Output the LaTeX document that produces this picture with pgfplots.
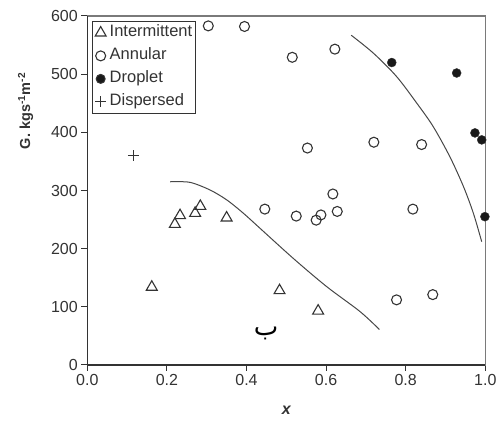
\documentclass[border=0pt]{standalone}
\usepackage{fontspec}
\setmainfont{Liberation Sans}
\newfontfamily\arabicfont[Script=Arabic]{DejaVu Sans}
\TeXXeTstate=1
\usepackage{pgfplots}
\pgfplotsset{compat=1.18}
\definecolor{ink}{HTML}{333333}
\definecolor{frame}{HTML}{7A7A7A}
\pgfplotsset{legend image code/.code={%
  \path[draw=none,fill=none] (0pt,0pt) rectangle (14pt,0.1pt);
  \draw[mark repeat=2,mark phase=2,#1] plot coordinates {(0pt,0pt)(6.5pt,0pt)(13pt,0pt)};}}

\begin{document}
\begin{tikzpicture}
\useasboundingbox (-87.3pt,-63pt) rectangle (413.7pt,365pt);
\begin{axis}[
  at={(0,0)},anchor=south west,
  scale only axis,width=398pt,height=349pt,
  xmin=0,xmax=1,ymin=0,ymax=600,
  xtick={0,0.2,0.4,0.6,0.8,1.0},
  ytick={0,100,200,300,400,500,600},
  xtick pos=bottom,ytick pos=left,
  tick align=outside,major tick length=6pt,
  tick style={ink,line width=1pt},
  axis line style={frame,line width=1.2pt},
  /pgf/number format/assume math mode=true,
  xticklabel style={/pgf/number format/.cd,fixed,fixed zerofill,precision=1},
  ticklabel style={font=\fontsize{16}{18}\selectfont,text=ink},
  xlabel={\bfseries\itshape x},
  ylabel={\bfseries G. kgs\textsuperscript{-1}m\textsuperscript{-2}},
  xlabel style={at={(axis description cs:0.5,-0.129)},anchor=center,font=\fontsize{16}{18}\selectfont,text=ink},
  ylabel style={at={(axis description cs:-0.155,0.728)},anchor=center,font=\fontsize{14.5}{18}\selectfont,text=ink},
  legend style={at={(axis description cs:0.011,0.986)},anchor=north west,
    draw=ink,line width=1pt,font=\fontsize{16.5}{18}\selectfont,
    inner xsep=2pt,inner ysep=2pt,row sep=4pt,text=ink,
    nodes={text height=12pt,text depth=4pt,inner sep=1.5pt}},
  legend cell align=left,
  clip=false,
]
\addplot[only marks,mark=triangle,mark size=6.3pt,ink,line width=1.1pt] coordinates {
  (0.162,134) (0.220,242) (0.233,257) (0.271,261) (0.284,273)
  (0.350,253) (0.483,128) (0.580,93)};
\addlegendentry{Intermittent}
\addplot[only marks,mark=o,mark size=5pt,ink,line width=1.1pt] coordinates {
  (0.304,583) (0.395,582) (0.515,529) (0.622,543) (0.553,373)
  (0.720,383) (0.840,379) (0.617,294) (0.446,268) (0.525,256)
  (0.587,258) (0.575,249) (0.628,264) (0.818,268) (0.777,112)
  (0.868,121)};
\addlegendentry{Annular}
\addplot[only marks,mark=*,mark size=4.5pt,ink,fill=black!90] coordinates {
  (0.765,520) (0.928,502) (0.974,399) (0.991,387) (0.999,255)};
\addlegendentry{Droplet}
\addplot[only marks,mark=+,mark size=5.5pt,ink,line width=1.1pt] coordinates {
  (0.116,360)};
\addlegendentry{Dispersed}
\addplot[smooth,ink!90,line width=1pt,forget plot] coordinates {
  (0.208,315) (0.258,314) (0.308,301) (0.350,284) (0.392,261)
  (0.434,235) (0.518,183) (0.601,135) (0.685,92) (0.734,61)};
\addplot[smooth,ink!90,line width=1pt,forget plot] coordinates {
  (0.663,567) (0.719,536) (0.777,496) (0.828,450) (0.869,410)
  (0.911,358) (0.945,307) (0.970,261) (0.991,212)};
\draw[ink,line width=1.2pt] (rel axis cs:0,1) -- (rel axis cs:0,0) -- (rel axis cs:1,0);
\node[font=\fontsize{26}{28}\selectfont,inner sep=0pt] at (axis cs:0.449,55) {\arabicfont\beginR ب\endR};
\end{axis}
\end{tikzpicture}
\end{document}
